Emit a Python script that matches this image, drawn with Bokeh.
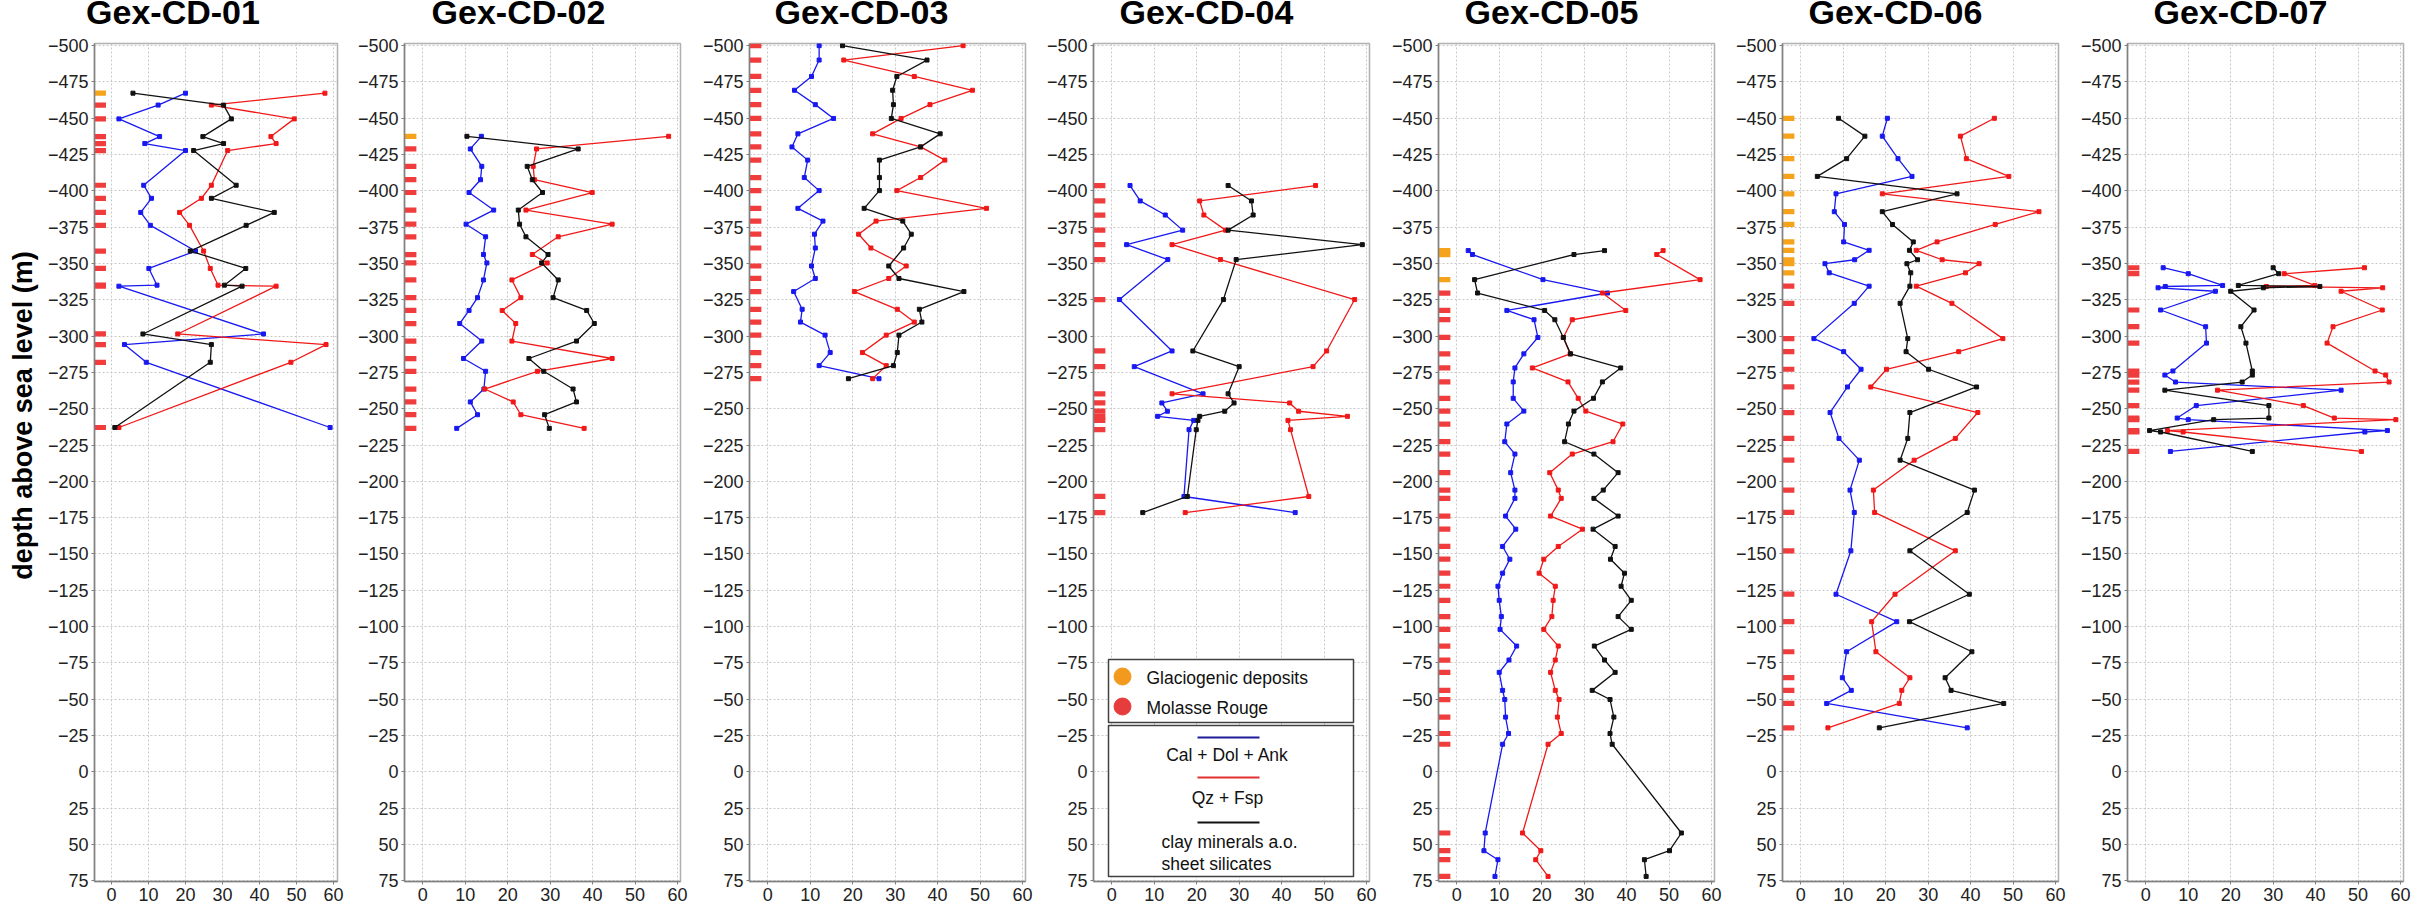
from bokeh.plotting import figure
from bokeh.layouts import row, column
from bokeh.models import Range1d, FixedTicker, Label
from bokeh.core.properties import value
from bokeh.embed import file_html
from bokeh.resources import INLINE
import math

# ---------------- data (wt-% vs depth above sea level, m) ----------------
wells = ["Gex-CD-01", "Gex-CD-02", "Gex-CD-03", "Gex-CD-04",
         "Gex-CD-05", "Gex-CD-06", "Gex-CD-07"]

depth_cd01 = [-467.3, -459.1, -449.6, -437.4, -432.6, -427.8, -403.9, -394.9, -385.2,
              -376.3, -358.6, -346.6, -335.1, -334.4, -301.5, -294.2, -282.0, -237.1]
cal_cd01 = [20.0, 12.6, 2.0, 13.0, 9.0, 20.0, 8.7, 10.8, 7.9, 10.5, 22.7, 10.1, 12.3, 2.0,
            41.1, 3.5, 9.4, 59.1]
qz_cd01 = [57.7, 27.0, 49.4, 43.1, 44.5, 31.4, 27.0, 24.3, 18.4, 21.1, 24.9, 26.7, 28.8,
           44.5, 17.9, 58.0, 48.5, 2.0]
clay_cd01 = [5.8, 30.3, 32.4, 24.7, 30.3, 22.2, 33.7, 27.0, 44.0, 36.4, 21.3, 36.3, 30.5,
             35.3, 8.5, 27.0, 26.7, 0.9]
litho_cd01 = ["G"] + ["M"] * 17

depth_cd02 = [-437.6, -428.9, -416.9, -407.7, -398.9, -386.8, -377.1, -368.4, -356.2,
              -350.4, -338.7, -326.5, -317.7, -308.7, -296.6, -284.6, -275.8, -263.6,
              -254.7, -245.9, -236.5]
cal_cd02 = [13.8, 11.2, 13.9, 13.6, 10.9, 16.7, 10.2, 14.8, 14.3, 15.1, 14.3, 12.9, 10.9,
            8.7, 13.9, 9.6, 14.8, 14.4, 11.2, 12.9, 8.0]
qz_cd02 = [57.9, 26.8, 26.0, 26.3, 39.9, 24.3, 44.6, 31.9, 25.8, 29.3, 21.0, 23.1, 18.7,
           21.9, 21.0, 44.6, 27.0, 14.6, 21.3, 23.1, 38.0]
clay_cd02 = [10.4, 36.6, 24.6, 25.8, 28.2, 22.5, 22.8, 24.3, 29.5, 28.0, 31.9, 30.7, 38.6,
             40.4, 36.2, 25.0, 28.5, 35.4, 36.2, 28.7, 29.8]
litho_cd02 = ["G"] + ["M"] * 20

depth_cd03 = [-500.0, -490.1, -478.8, -469.3, -459.4, -449.9, -439.3, -430.3, -421.2,
              -409.2, -400.2, -388.0, -379.2, -370.2, -360.7, -348.3, -339.7, -330.7,
              -318.5, -309.7, -300.7, -288.7, -279.7, -270.7]
cal_cd03 = [12.1, 12.1, 10.3, 6.3, 11.2, 15.5, 7.1, 5.7, 9.4, 8.6, 12.1, 7.1, 13.0, 11.0,
            11.2, 10.3, 11.2, 6.1, 8.1, 7.7, 13.5, 14.7, 12.1, 26.2]
qz_cd03 = [46.0, 17.9, 34.5, 48.2, 38.2, 31.4, 24.7, 36.0, 41.7, 36.0, 30.4, 51.5, 25.5,
           21.4, 24.3, 32.6, 28.5, 20.4, 30.5, 34.5, 27.9, 22.3, 27.9, 24.7]
clay_cd03 = [17.6, 37.5, 30.4, 29.4, 29.6, 29.1, 40.6, 36.0, 26.3, 26.3, 26.3, 22.7, 31.8,
             33.8, 32.0, 28.5, 30.9, 46.2, 35.7, 36.3, 30.9, 30.5, 29.6, 19.0]
litho_cd03 = ["M"] * 24

depth_cd04 = [-403.7, -393.1, -383.4, -373.0, -363.0, -352.7, -325.2, -289.8, -279.0,
              -260.3, -254.0, -248.3, -244.8, -242.0, -235.6, -189.6, -178.5]
cal_cd04 = [4.3, 6.7, 12.6, 16.7, 3.5, 13.2, 1.8, 14.2, 5.3, 21.5, 11.8, 13.1, 10.8, 19.3,
            18.2, 17.0, 43.2]
qz_cd04 = [48.0, 20.7, 21.7, 26.8, 14.2, 25.6, 57.2, 50.6, 47.4, 14.2, 41.9, 44.0, 55.5,
           41.5, 42.1, 46.4, 17.3]
clay_cd04 = [27.4, 32.9, 33.3, 27.4, 59.0, 29.3, 26.3, 19.1, 30.0, 27.4, 28.8, 26.6, 20.7,
             20.3, 19.9, 17.8, 7.3]
litho_cd04 = ["M"] * 17

depth_cd05 = [-358.9, -356.2, -338.9, -329.7, -317.7, -311.3, -299.1, -287.8, -278.1,
              -268.5, -257.2, -248.4, -239.5, -227.3, -218.8, -206.0, -194.0, -188.3,
              -176.1, -167.1, -155.2, -146.4, -136.8, -127.8, -118.1, -106.9, -98.1,
              -86.6, -77.0, -68.5, -56.1, -49.8, -37.7, -26.4, -19.0, 42.1, 54.3, 60.5,
              72.0]
cal_cd05 = [2.7, 3.7, 20.3, 35.5, 11.8, 18.2, 19.1, 15.8, 13.7, 13.3, 13.3, 15.8, 11.8,
            11.3, 13.7, 12.7, 13.7, 13.7, 11.5, 13.9, 10.8, 12.5, 10.8, 9.7, 10.0, 10.5,
            10.2, 14.1, 12.3, 10.0, 10.8, 11.3, 11.5, 12.2, 10.8, 6.7, 6.4, 9.7, 9.0]
qz_cd05 = [48.6, 47.1, 57.3, 34.3, 39.8, 27.2, 25.1, 26.7, 17.8, 26.2, 28.6, 30.4, 39.1,
           36.8, 27.2, 21.9, 23.9, 24.6, 22.1, 29.6, 23.9, 20.5, 19.4, 23.2, 22.7, 22.4,
           20.5, 23.9, 23.2, 22.1, 23.2, 24.1, 23.7, 24.6, 21.5, 15.5, 19.8, 18.6, 21.5]
clay_cd05 = [34.8, 27.6, 4.2, 4.9, 20.7, 23.1, 25.1, 26.8, 38.6, 34.3, 32.2, 27.6, 26.3,
             25.4, 32.3, 38.0, 34.5, 32.3, 38.0, 32.1, 37.3, 36.2, 39.5, 38.7, 41.1, 38.0,
             41.1, 32.4, 34.8, 37.3, 31.9, 36.1, 37.0, 36.1, 36.6, 52.9, 50.1, 44.2, 44.6]
litho_cd05 = ["G"] * 3 + ["M"] * 36

depth_cd06 = [-450.0, -437.7, -422.2, -410.0, -398.0, -385.7, -376.9, -364.9, -359.1,
              -352.6, -349.9, -343.6, -334.4, -322.6, -298.3, -289.3, -277.2, -265.0,
              -247.4, -229.6, -214.6, -194.0, -178.6, -152.2, -122.3, -103.4, -82.7,
              -64.8, -56.1, -47.1, -30.3]
cal_cd06 = [20.4, 19.2, 22.9, 26.2, 8.3, 7.9, 10.3, 10.1, 16.1, 12.7, 5.7, 6.7, 16.1, 12.6,
            3.1, 10.1, 14.2, 11.0, 6.9, 9.0, 13.8, 11.6, 12.6, 11.8, 8.3, 22.6, 10.8, 9.8,
            11.9, 6.1, 39.2]
qz_cd06 = [45.6, 37.6, 39.0, 49.0, 19.2, 56.1, 45.8, 32.1, 27.2, 33.3, 42.0, 38.8, 27.2,
           35.6, 47.6, 37.2, 20.2, 16.5, 41.7, 36.4, 26.7, 17.1, 17.4, 36.4, 22.2, 16.7,
           17.7, 25.7, 23.8, 23.2, 6.4]
clay_cd06 = [8.9, 15.1, 10.8, 3.9, 36.8, 19.2, 21.6, 26.5, 25.6, 27.5, 25.0, 25.9, 25.7,
             23.4, 25.2, 24.8, 30.1, 41.4, 25.7, 25.2, 23.4, 40.9, 39.2, 25.7, 39.7, 25.6,
             40.3, 34.0, 35.4, 47.8, 18.5]
litho_cd06 = ["G"] * 12 + ["M"] * 19

depth_cd07 = [-347.1, -343.0, -334.9, -334.2, -333.3, -330.9, -318.0, -306.5, -295.2,
              -276.0, -273.2, -268.4, -262.8, -252.2, -243.6, -242.5, -235.0, -234.0,
              -220.6]
cal_cd07 = [4.1, 10.0, 18.1, 4.6, 2.9, 16.4, 3.5, 14.1, 14.3, 6.4, 4.5, 7.0, 46.0, 11.9,
            7.4, 10.0, 56.9, 51.6, 5.8]
qz_cd07 = [51.5, 32.6, 39.8, 28.4, 55.8, 46.0, 55.7, 44.1, 42.7, 54.0, 56.5, 57.3, 16.9,
           37.1, 44.4, 58.9, 5.1, 8.8, 50.8]
clay_cd07 = [30.0, 31.3, 21.8, 41.0, 27.7, 20.0, 25.5, 22.4, 23.6, 25.1, 25.1, 22.7, 4.5,
             29.0, 29.0, 16.0, 0.9, 3.5, 25.1]
litho_cd07 = ["M", "M", "", "", "", ""] + ["M"] * 13

x_ticks = [0, 10, 20, 30, 40, 50, 60]
y_ticks = list(range(-500, 76, 25))

y_label = "depth above sea level (m)"
litho_names = {"G": "Glaciogenic deposits", "M": "Molasse Rouge"}
series_names = ["Cal + Dol + Ank", "Qz + Fsp", "clay minerals a.o.\nsheet silicates"]

WELL_DATA = [
    (depth_cd01, cal_cd01, qz_cd01, clay_cd01, litho_cd01),
    (depth_cd02, cal_cd02, qz_cd02, clay_cd02, litho_cd02),
    (depth_cd03, cal_cd03, qz_cd03, clay_cd03, litho_cd03),
    (depth_cd04, cal_cd04, qz_cd04, clay_cd04, litho_cd04),
    (depth_cd05, cal_cd05, qz_cd05, clay_cd05, litho_cd05),
    (depth_cd06, cal_cd06, qz_cd06, clay_cd06, litho_cd06),
    (depth_cd07, cal_cd07, qz_cd07, clay_cd07, litho_cd07),
]

# ---------------- layout / style ----------------
FONT = "Liberation Sans"
C_CAL, C_QZ, C_CLAY = "#1818f0", "#f01818", "#111111"
C_LITHO = {"G": "#f5a31a", "M": "#f03c3c"}
C_LEG_DOT = {"G": "#f39a1e", "M": "#e63c3c"}

REF_FRAME_LEFT = [94, 404, 749, 1093, 1438, 1782, 2127]
REF_FRAME_W = [243, 276, 276, 276, 276, 276, 276]
X_RANGES = [(-4.6, 61.1)] + [(-4.3, 60.7)] * 6
REF_FRAME_TOP, REF_FRAME_BOT = 43, 881
Y_TOP, Y_BOT = -501.5, 75.5
PAGE = 0                    # the page template has no body margin
TITLE_STRIP_H = 33          # page y 0..33
YLAB_STRIP_W = 44           # page x 0..44
BORDER_R = 8
BORDER_T = 10
BORDER_B = 26
FRAME_H = REF_FRAME_BOT - REF_FRAME_TOP
ROW_H = BORDER_T + FRAME_H + BORDER_B
BAR_RIGHT = -1.5
BAR_H = 3.6
TITLE_CX = [172.5, 518, 861, 1206, 1551, 1895, 2240]
TITLE_MID_Y = 11            # text-box middle (empirically corrected)
YLAB_X, YLAB_Y = 22, 405
TOTAL_RIGHT = REF_FRAME_LEFT[-1] + REF_FRAME_W[-1] + BORDER_R


def ref_x(i, X):
    x0, x1 = X_RANGES[i]
    return x0 + (X - REF_FRAME_LEFT[i]) * (x1 - x0) / REF_FRAME_W[i]


def ref_y(Y):
    return Y_TOP + (Y - REF_FRAME_TOP) * (Y_BOT - Y_TOP) / (REF_FRAME_BOT - REF_FRAME_TOP)


def strip(w, h, xr, yr):
    s = figure(frame_width=w, frame_height=h, x_range=Range1d(*xr), y_range=Range1d(*yr),
               min_border=0, x_axis_type=None, y_axis_type=None, title=None,
               output_backend="svg", toolbar_location=None)
    s.grid.visible = False
    s.outline_line_color = None
    s.background_fill_color = "white"
    s.border_fill_color = "white"
    return s


figs = []
for i, (name, (dep, cal, qz, clay, litho)) in enumerate(zip(wells, WELL_DATA)):
    if i == 0:
        lb = REF_FRAME_LEFT[0] - PAGE - YLAB_STRIP_W
    else:
        lb = REF_FRAME_LEFT[i] - (REF_FRAME_LEFT[i - 1] + REF_FRAME_W[i - 1] + BORDER_R)
    x0, x1 = X_RANGES[i]
    p = figure(frame_width=REF_FRAME_W[i], frame_height=FRAME_H,
               x_range=Range1d(x0, x1), y_range=Range1d(Y_BOT, Y_TOP),
               min_border_left=lb, min_border_right=BORDER_R,
               min_border_top=BORDER_T, min_border_bottom=BORDER_B,
               output_backend="svg", toolbar_location=None)
    p.background_fill_color = "white"
    p.border_fill_color = "white"
    p.outline_line_color = "#b0b0b0"
    p.outline_line_width = 1.5

    p.xaxis.ticker = FixedTicker(ticks=x_ticks)
    p.yaxis.ticker = FixedTicker(ticks=y_ticks)
    p.xgrid.ticker = FixedTicker(ticks=x_ticks)
    p.ygrid.ticker = FixedTicker(ticks=y_ticks)
    for ax in (p.xaxis, p.yaxis):
        ax.major_label_text_font = FONT
        ax.major_label_text_font_size = "18px"
        ax.major_label_text_color = "#222222"
        ax.axis_line_color = "#808080"
        ax.axis_line_width = 1.5
        ax.major_tick_line_color = "#808080"
        ax.major_tick_out = 3
        ax.major_tick_in = 0
        ax.minor_tick_line_color = None
        ax.major_label_standoff = 3
    p.grid.grid_line_color = "#c8c8c8"
    p.grid.grid_line_dash = "2 2"
    p.grid.grid_line_width = 1

    # lithology bars at the left edge
    for code in ("G", "M"):
        ys = [d for d, l in zip(dep, litho) if l == code]
        if ys:
            p.hbar(y=ys, left=x0, right=BAR_RIGHT, height=BAR_H,
                   color=C_LITHO[code], line_color=None)

    # mineral series
    for vals, col in ((cal, C_CAL), (qz, C_QZ), (clay, C_CLAY)):
        p.line(vals, dep, line_color=col, line_width=1.3)
        p.scatter(vals, dep, marker="square", size=4, color=col)
    figs.append(p)

# legend drawn inside panel 4
L = 3
pl = figs[L]
bx0, bx1 = ref_x(L, 1108), ref_x(L, 1353)
pl.quad(left=[bx0, bx0], right=[bx1, bx1],
        top=[ref_y(659), ref_y(725)], bottom=[ref_y(722), ref_y(876)],
        fill_color="white", line_color="#404040", line_width=1.5)
for code, Y in (("G", 676), ("M", 706)):
    pl.scatter([ref_x(L, 1122)], [ref_y(Y)], marker="circle", size=17,
               color=C_LEG_DOT[code])
    pl.add_layout(Label(x=ref_x(L, 1146), y=ref_y(Y + 1), text=litho_names[code],
                        text_font=FONT, text_font_size="17.5px", text_color="#111111",
                        text_align="left", text_baseline="middle"))
leg_cols = ["#1c1c9a", "#e23030", "#111111"]
for Yl, col in zip((737, 777, 822), leg_cols):
    pl.line([ref_x(L, 1197), ref_x(L, 1259)], [ref_y(Yl), ref_y(Yl)],
            line_color=col, line_width=1.8)
pl.add_layout(Label(x=ref_x(L, 1227), y=ref_y(754), text=series_names[0],
                    text_font=FONT, text_font_size="17.5px", text_color="#111111",
                    text_align="center", text_baseline="middle"))
pl.add_layout(Label(x=ref_x(L, 1227), y=ref_y(797), text=series_names[1],
                    text_font=FONT, text_font_size="17.5px", text_color="#111111",
                    text_align="center", text_baseline="middle"))
for line_txt, Y in zip(series_names[2].split("\n"), (841, 863)):
    pl.add_layout(Label(x=ref_x(L, 1161), y=ref_y(Y), text=line_txt,
                        text_font=FONT, text_font_size="17.5px", text_color="#111111",
                        text_align="left", text_baseline="middle"))

# title strip (page pixel coordinates)
top_strip = strip(TOTAL_RIGHT - PAGE, TITLE_STRIP_H, (PAGE, TOTAL_RIGHT),
                  (PAGE + TITLE_STRIP_H, PAGE))
top_strip.text(x=TITLE_CX, y=[TITLE_MID_Y] * len(wells), text=wells,
               text_font=value(FONT), text_font_style="bold", text_font_size="34px",
               text_color="black", text_align="center", text_baseline="middle")

# y-axis label strip (page pixel coordinates)
row_top = PAGE + TITLE_STRIP_H
left_strip = strip(YLAB_STRIP_W, ROW_H, (PAGE, PAGE + YLAB_STRIP_W),
                   (row_top + ROW_H, row_top))
left_strip.text(x=[YLAB_X], y=[YLAB_Y], text=[y_label], angle=math.pi / 2,
                text_font=value(FONT), text_font_style="bold", text_font_size="27px",
                text_color="black", text_align="center", text_baseline="middle")

layout = column(top_strip, row(left_strip, *figs, spacing=0), spacing=0)
open("out.html", "w").write(file_html(layout, INLINE))
